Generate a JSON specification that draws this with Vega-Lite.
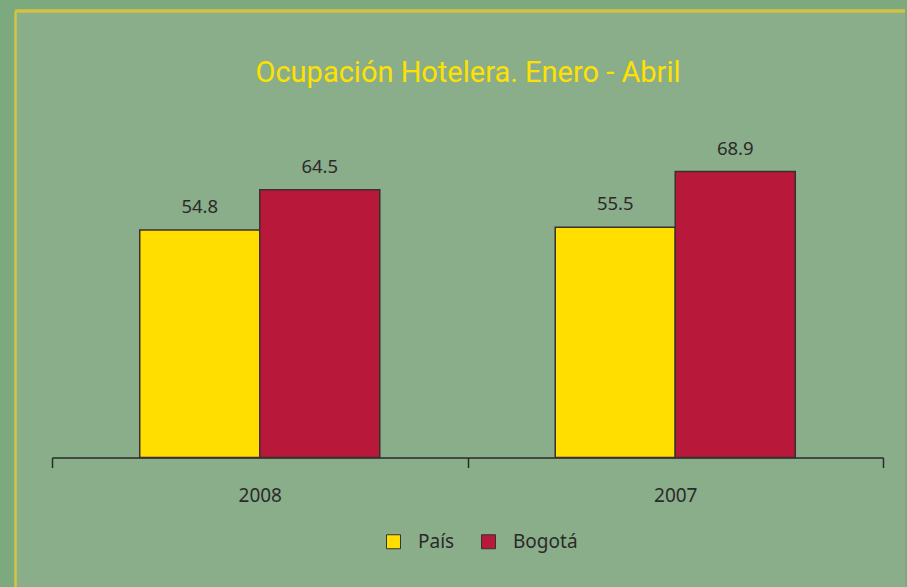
{
  "$schema": "https://vega.github.io/schema/vega-lite/v6.json",
  "width": 907,
  "height": 587,
  "autosize": {"type": "fit", "contains": "padding"},
  "padding": {"left": 13, "top": 9, "right": 0, "bottom": 0},
  "background": "#7caa7e",
  "config": {"view": {"fill": "#8aae8a", "stroke": null}, "font": "Noto Sans"},
  "title": {
    "text": "Ocupación Hotelera. Enero - Abril",
    "font": "Roboto",
    "fontSize": 29,
    "fontWeight": "normal",
    "color": "#ffe100",
    "anchor": "middle",
    "baseline": "alphabetic",
    "offset": -101.5,
    "dx": 8,
    "frame": "group"
  },
  "data": {
    "values": [
      {"year": "2008", "serie": "País", "value": 54.8},
      {"year": "2008", "serie": "Bogotá", "value": 64.5},
      {"year": "2007", "serie": "País", "value": 55.5},
      {"year": "2007", "serie": "Bogotá", "value": 68.9}
    ]
  },
  "encoding": {
    "x": {
      "field": "year",
      "type": "nominal",
      "sort": ["2008", "2007"],
      "scale": {"range": [37, 868], "paddingInner": 0, "paddingOuter": 0},
      "axis": {
        "orient": "bottom",
        "offset": -129.5,
        "title": null,
        "labelAngle": 0,
        "domainColor": "#2a2a2a",
        "domainWidth": 1.5,
        "tickColor": "#2a2a2a",
        "tickWidth": 1.5,
        "tickSize": 10,
        "tickBand": "extent",
        "labelFontSize": 19,
        "labelColor": "#2a2a2a",
        "labelPadding": 18.5,
        "grid": false
      }
    },
    "xOffset": {
      "field": "serie",
      "type": "nominal",
      "sort": ["País", "Bogotá"],
      "scale": {"paddingInner": 0, "paddingOuter": 0.731}
    },
    "y": {
      "field": "value",
      "type": "quantitative",
      "scale": {"domain": [-31.2, 107.6], "nice": false, "zero": false},
      "axis": {
        "orient": "left",
        "title": null,
        "labels": false,
        "ticks": false,
        "domain": true,
        "domainColor": "#d2c43e",
        "domainWidth": 2.5,
        "grid": false
      }
    }
  },
  "layer": [
    {
      "mark": {"type": "rule", "color": "#d2c43e", "strokeWidth": 2.5},
      "encoding": {"x": null, "xOffset": null, "y": {"datum": 107.6}}
    },
    {
      "mark": {"type": "bar", "stroke": "#3b2f2f", "strokeWidth": 1.5},
      "encoding": {
        "color": {
          "field": "serie",
          "type": "nominal",
          "scale": {"domain": ["País", "Bogotá"], "range": ["#ffde00", "#b8193a"]},
          "legend": {
            "orient": "none",
            "legendX": 369,
            "legendY": 521,
            "direction": "horizontal",
            "title": null,
            "symbolType": "square",
            "symbolSize": 196,
            "symbolStrokeColor": "#333333",
            "symbolStrokeWidth": 1,
            "symbolOpacity": 1,
            "labelFontSize": 19,
            "labelColor": "#2a2a2a",
            "labelOffset": 15,
            "columnPadding": 24,
            "padding": 0
          }
        }
      }
    },
    {
      "mark": {"type": "text", "baseline": "alphabetic", "dy": -17, "fontSize": 18.5, "color": "#2a2a2a"},
      "encoding": {"text": {"field": "value", "type": "quantitative", "format": ".1f"}}
    }
  ]
}
